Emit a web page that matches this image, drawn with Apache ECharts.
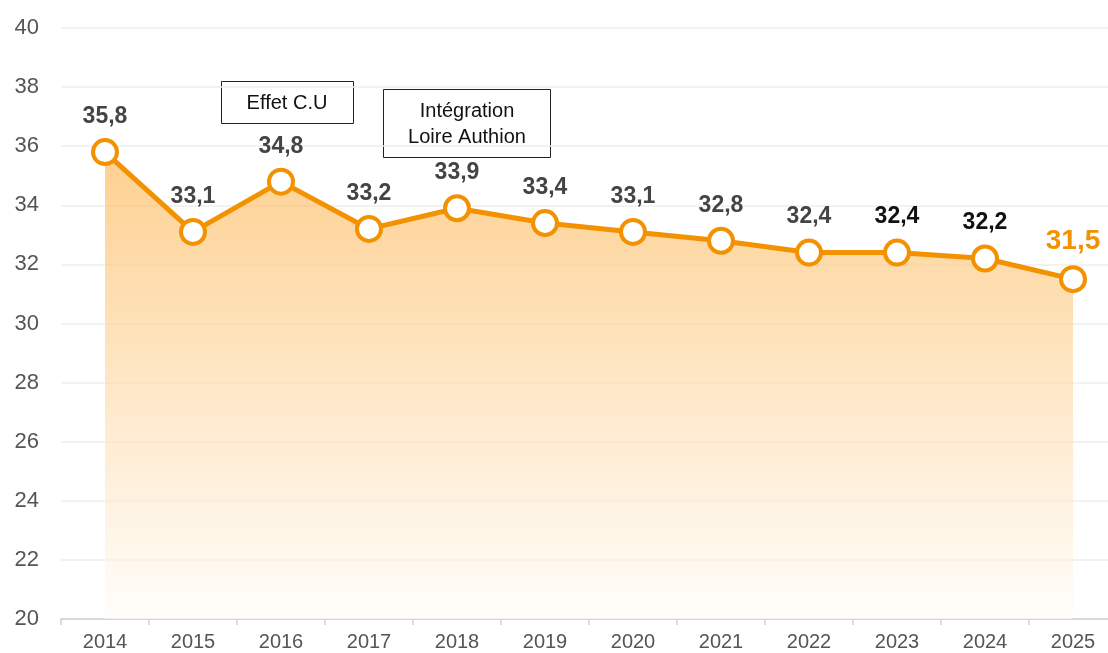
<!DOCTYPE html>
<html style="height: 100%">
<head>
    <meta charset="utf-8">
    <title>ECharts</title>
    <script src="https://cdn.jsdelivr.net/npm/echarts@6/dist/echarts.min.js"></script>
</head>
<body style="height: 100%; margin: 0; background: #fff">
    <div id="main" style="width: 1108px; height: 653px"></div>
<script type="text/javascript">
    var years = ['2014', '2015', '2016', '2017', '2018', '2019', '2020', '2021', '2022', '2023', '2024', '2025'];
    var values = [35.8, 33.1, 34.8, 33.2, 33.9, 33.4, 33.1, 32.8, 32.4, 32.4, 32.2, 31.5];
    var yTicks = [20, 22, 24, 26, 28, 30, 32, 34, 36, 38, 40];
    var notes = ['Effet C.U', 'Intégration\nLoire Authion'];

    var font = 'Arial, "Liberation Sans", sans-serif';
    var orange = '#F39200';

    // couleur des étiquettes : gris, puis noir pour 2023-2024, orange pour 2025
    function labelStyle(i) {
        if (i === values.length - 1) return { color: orange, fontSize: 28 };
        if (i >= 9) return { color: '#111', fontSize: 23 };
        return { color: '#444', fontSize: 23 };
    }

    var seriesData = values.map(function (v, i) {
        return { value: v, label: labelStyle(i) };
    });

    var myChart = echarts.init(document.getElementById('main'));
    var option = {
        backgroundColor: '#fff',
        animation: false,
        grid: { left: 61, top: 28, width: 1056, height: 591, outerBoundsMode: 'none' },
        xAxis: {
            type: 'category',
            data: years,
            boundaryGap: true,
            axisLine: { lineStyle: { color: '#d0d0d0', width: 1.5 } },
            axisTick: { show: true, length: 6, lineStyle: { color: '#d0d0d0', width: 1.5 } },
            axisLabel: { color: '#555', fontSize: 20, fontFamily: font, margin: 13 }
        },
        yAxis: {
            type: 'value',
            min: yTicks[0],
            max: yTicks[yTicks.length - 1],
            interval: 2,
            axisLine: { show: false },
            axisTick: { show: false },
            axisLabel: { color: '#555', fontSize: 22, fontFamily: font, margin: 22 },
            splitLine: { lineStyle: { color: '#eeeeee', width: 1.5 } }
        },
        series: [{
            type: 'line',
            data: seriesData,
            symbol: 'circle',
            symbolSize: 24,
            itemStyle: { color: '#fff', borderColor: orange, borderWidth: 4 },
            lineStyle: { color: orange, width: 5 },
            areaStyle: {
                color: new echarts.graphic.LinearGradient(0, 0, 0, 1, [
                    { offset: 0, color: 'rgba(253,184,88,0.95)' },
                    { offset: 1, color: 'rgba(255,252,248,0.9)' }
                ])
            },
            label: {
                show: true,
                position: 'top',
                distance: 10,
                fontWeight: 'bold',
                fontFamily: font,
                formatter: function (p) { return String(p.value).replace('.', ','); }
            },
            z: 3
        }],
        graphic: [
            {
                type: 'group', left: 221, top: 81,
                children: [
                    { type: 'rect', shape: { x: 0.5, y: 0.5, width: 132, height: 42 },
                      style: { fill: '#fff', stroke: '#222', lineWidth: 1 } },
                    { type: 'text', x: 66, y: 22,
                      style: { text: notes[0], font: '20px ' + font, fill: '#111',
                               align: 'center', verticalAlign: 'middle' } }
                ]
            },
            {
                type: 'group', left: 383, top: 89,
                children: [
                    { type: 'rect', shape: { x: 0.5, y: 0.5, width: 167, height: 68 },
                      style: { fill: '#fff', stroke: '#222', lineWidth: 1 } },
                    { type: 'text', x: 84, y: 35,
                      style: { text: notes[1], font: '20px ' + font, fill: '#111', lineHeight: 26,
                               align: 'center', verticalAlign: 'middle' } }
                ]
            }
        ]
    };
    myChart.setOption(option);
</script>
</body>
</html>
